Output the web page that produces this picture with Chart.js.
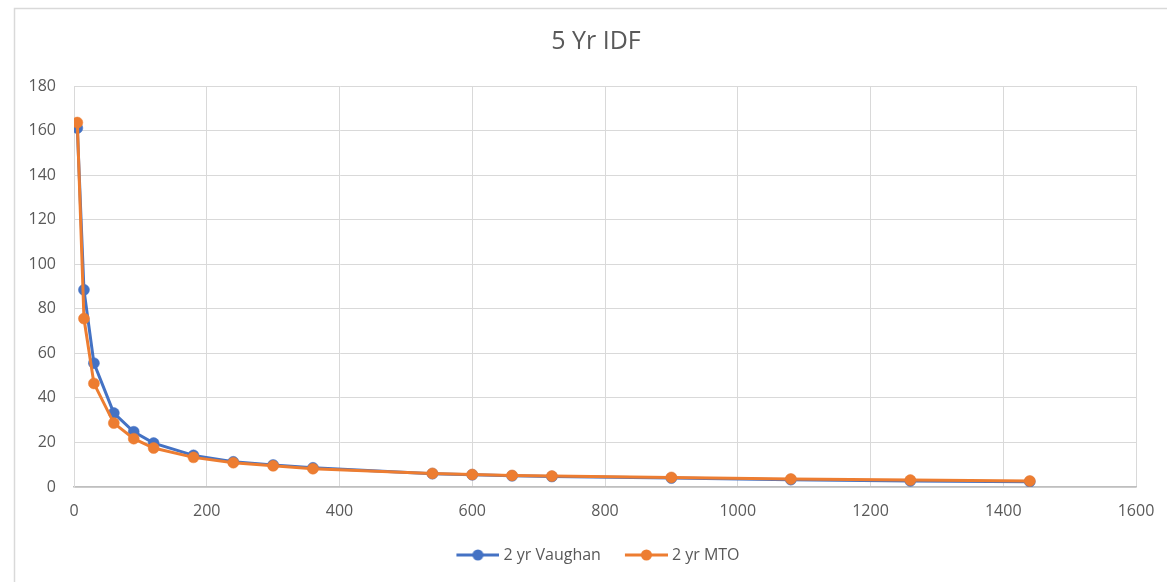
<!DOCTYPE html>
<html>
<head>
<meta charset="utf-8">
<script src="https://cdn.jsdelivr.net/npm/chart.js@4/dist/chart.umd.min.js"></script>
<style>
  html, body { margin: 0; padding: 0; background: #ffffff; }
  #wrap { width: 1167px; height: 582px; position: relative; }
</style>
</head>
<body>
<div id="wrap"><canvas id="idf"></canvas></div>
<script>
// Storm durations (minutes)
const durations = [5, 15, 30, 60, 90, 120, 180, 240, 300, 360, 540, 600, 660, 720, 900, 1080, 1260, 1440];
// Rainfall intensity (mm/hr)
const vaughan = [161.1, 88.5, 55.6, 33.2, 24.8, 19.7, 14.2, 11.3, 9.9, 8.6, 6.0, 5.5, 5.0, 4.7, 4.0, 3.3, 2.7, 2.4];
const mto     = [163.6, 75.6, 46.5, 28.7, 21.7, 17.5, 13.3, 10.9, 9.5, 8.2, 6.1, 5.6, 5.2, 4.9, 4.3, 3.6, 3.1, 2.7];

const seriesNames = ['2 yr Vaughan', '2 yr MTO'];
const seriesColors = ['#4472C4', '#ED7D31'];

const xTicks = { min: 0, max: 1600, step: 200 };
const yTicks = { min: 0, max: 180, step: 20 };

const TEXT = '#595959';
const GRID = '#d9d9d9';
const FONT = "'Open Sans', 'Noto Sans', sans-serif";

function toPoints(xs, ys) { return xs.map((x, i) => ({ x: x, y: ys[i] })); }

// Legend sample: a short line with a marker on it
function legendSample(color) {
  const c = document.createElement('canvas');
  c.width = 61; c.height = 14;
  const g = c.getContext('2d');
  g.strokeStyle = color; g.lineWidth = 3;
  g.beginPath(); g.moveTo(18, 7); g.lineTo(61, 7); g.stroke();
  g.fillStyle = color;
  g.beginPath(); g.arc(39.5, 7, 5.5, 0, Math.PI * 2); g.fill();
  return c;
}

// Outer frame of the chart object
const framePlugin = {
  id: 'frame',
  beforeDraw(chart) {
    const ctx = chart.ctx;
    ctx.save();
    ctx.fillStyle = '#ffffff';
    ctx.fillRect(0, 0, chart.width, chart.height);
    ctx.strokeStyle = GRID;
    ctx.lineWidth = 1.5;
    ctx.strokeRect(14.5, 8.5, 1300, 700);
    ctx.restore();
  }
};

// Title and legend are centred on the whole chart object, not the padded box
const centreShift = {
  id: 'centreShift',
  afterLayout(chart) {
    if (chart.titleBlock) { chart.titleBlock.left += 21; chart.titleBlock.right += 21; }
    if (chart.legend) { chart.legend.left += 16; chart.legend.right += 16; }
  }
};

const datasets = [
  { label: seriesNames[0], data: toPoints(durations, vaughan), order: 1 },
  { label: seriesNames[1], data: toPoints(durations, mto), order: 0 }
].map((d, i) => Object.assign(d, {
  borderColor: seriesColors[i],
  backgroundColor: seriesColors[i],
  pointBackgroundColor: seriesColors[i],
  pointBorderColor: seriesColors[i],
  borderWidth: 3,
  pointRadius: 5.5,
  pointBorderWidth: 0.5,
  pointHoverRadius: 5.5,
  tension: 0
}));

new Chart(document.getElementById('idf'), {
  type: 'line',
  data: { datasets: datasets },
  plugins: [framePlugin, centreShift],
  options: {
    responsive: true,
    maintainAspectRatio: false,
    animation: false,
    devicePixelRatio: 1,
    layout: { padding: { left: 14, right: 31, top: 10, bottom: 9 } },
    plugins: {
      title: {
        display: true,
        text: '5 Yr IDF',
        color: TEXT,
        font: { family: FONT, size: 25, weight: 'normal' },
        padding: { top: 17, bottom: 29 }
      },
      legend: {
        position: 'bottom',
        labels: {
          color: TEXT,
          font: { family: FONT, size: 16 },
          usePointStyle: true,
          pointStyleWidth: 53,
          boxHeight: 14,
          padding: 10,
          generateLabels(chart) {
            return chart.data.datasets.map((d, i) => ({
              text: d.label,
              fillStyle: d.borderColor,
              strokeStyle: d.borderColor,
              fontColor: TEXT,
              lineWidth: 0,
              hidden: false,
              datasetIndex: i,
              pointStyle: legendSample(d.borderColor)
            }));
          }
        }
      },
      tooltip: { enabled: false }
    },
    scales: {
      x: {
        type: 'linear',
        min: xTicks.min,
        max: xTicks.max,
        ticks: {
          stepSize: xTicks.step,
          color: TEXT,
          font: { family: FONT, size: 16 },
          padding: 15,
          maxRotation: 0,
          callback: v => String(v)
        },
        grid: { color: GRID, lineWidth: 1, drawTicks: false },
        border: { color: '#bfbfbf', width: 1.5 },
        afterFit(scale) {
          scale.height = 50;
          scale.paddingLeft = 0;
          scale.paddingRight = 0;
        }
      },
      y: {
        type: 'linear',
        min: yTicks.min,
        max: yTicks.max,
        ticks: {
          stepSize: yTicks.step,
          color: TEXT,
          font: { family: FONT, size: 16 },
          padding: 18,
          callback: v => String(v)
        },
        grid: { color: GRID, lineWidth: 1, drawTicks: false },
        border: { color: GRID, width: 1 },
        afterFit(scale) {
          scale.width = 60;
          scale.paddingTop = 0;
          scale.paddingBottom = 0;
        }
      }
    }
  }
});
</script>
</body>
</html>
